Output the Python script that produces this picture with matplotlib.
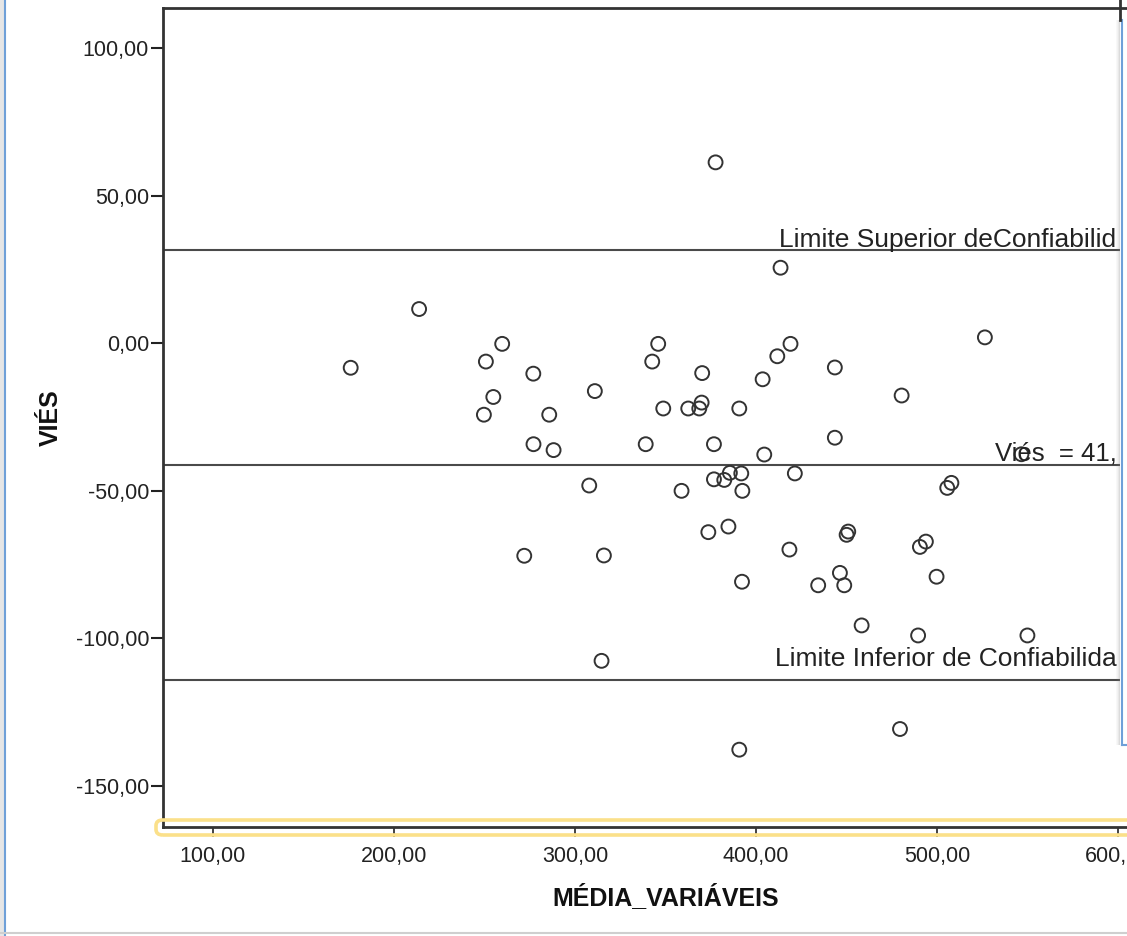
import matplotlib
matplotlib.use('Agg')
import matplotlib.pyplot as plt
from matplotlib.ticker import FuncFormatter
from matplotlib.patches import Rectangle, FancyBboxPatch
from matplotlib.lines import Line2D

# media das variaveis (x) e vies (y)
media = [176.1, 213.9, 259.8, 250.8, 277.0, 311.0, 254.9, 249.7, 285.8, 277.1,
         288.2, 377.7, 413.6, 346.0, 342.7, 419.1, 411.8, 443.6, 370.3, 403.7,
         348.8, 362.6, 368.7, 370.0, 390.8, 339.1, 376.8, 443.6, 404.6, 385.6,
         391.9, 376.8, 382.5, 421.5, 358.9, 392.5, 373.7, 384.8, 451.0, 450.1,
         418.5, 316.0, 446.4, 448.8, 434.4, 392.3, 458.4, 314.7, 390.8, 307.9,
         272.0, 526.5, 480.5, 546.7, 505.7, 508.0, 490.6, 493.9, 499.8, 489.6,
         550.0, 479.6]
vies = [-8.3, 11.6, -0.2, -6.2, -10.3, -16.2, -18.2, -24.2, -24.2, -34.2,
        -36.2, 61.3, 25.6, -0.2, -6.2, -0.2, -4.4, -8.2, -10.1, -12.2,
        -22.1, -22.1, -22.1, -20.1, -22.1, -34.2, -34.2, -32.0, -37.7, -43.9,
        -44.1, -46.1, -46.3, -44.1, -50.0, -50.0, -64.0, -62.1, -63.8, -64.9,
        -69.9, -71.9, -77.8, -82.0, -82.0, -80.8, -95.6, -107.6, -137.7, -48.2,
        -72.0, 2.0, -17.7, -37.6, -49.0, -47.3, -69.0, -67.2, -79.1, -99.0,
        -99.0, -130.7]

vies_medio = -41.3
lim_sup = 31.6
lim_inf = -114.2

x_ticks = [100, 200, 300, 400, 500, 600]
y_ticks = [100, 50, 0, -50, -100, -150]

W, H = 1127, 936
plt.rcParams['font.family'] = ['Liberation Sans', 'DejaVu Sans']

fig = plt.figure(figsize=(W / 100, H / 100), dpi=100)
fig.patch.set_facecolor('white')

# axes in pixel terms: left 163, top 8, bottom 827, right beyond the crop
L, T, B, R = 163, 8, 827, 1140
ax = fig.add_axes([L / W, 1 - B / H, (R - L) / W, (B - T) / H])
ax.set_xlim(72.4, 612.2)
ax.set_ylim(-163.9, 113.6)

ax.scatter(media, vies, s=100, facecolors='none', edgecolors='#333333',
           linewidths=1.4, zorder=3)

for yv in (lim_sup, vies_medio, lim_inf):
    ax.axhline(yv, color='#4a4a4a', lw=1.5, zorder=2)

ax.text(412.7, 32.6, 'Limite Superior deConfiabilid', fontsize=19,
        color='#222222', va='baseline', ha='left', zorder=4)
ax.text(532.0, -39.6, 'Viés  = 41,', fontsize=18.5,
        color='#222222', va='baseline', ha='left', zorder=4)
ax.text(410.5, -109.4, 'Limite Inferior de Confiabilida', fontsize=19,
        color='#222222', va='baseline', ha='left', zorder=4)

fmt = FuncFormatter(lambda v, p: f'{v:.2f}'.replace('.', ','))
ax.set_xticks(x_ticks)
ax.set_yticks(y_ticks)
ax.xaxis.set_major_formatter(fmt)
ax.yaxis.set_major_formatter(fmt)
ax.tick_params(axis='y', direction='out', length=9, width=1.5, pad=1,
               labelsize=15.5, colors='#222222')
ax.tick_params(axis='x', direction='out', length=7, width=1.2, pad=6.5,
               labelsize=15.5, colors='#222222')

for side in ('left', 'bottom', 'top'):
    ax.spines[side].set_linewidth(2)
    ax.spines[side].set_color('#333333')
ax.spines['right'].set_visible(False)

fig.text(51 / W, 1 - 418 / H, 'VIÉS', rotation=90, fontsize=18,
         fontweight='bold', ha='center', va='center', color='#111111')
fig.text(665.5 / W, 1 - 897 / H, 'MÉDIA_VARIÁVEIS', fontsize=18,
         fontweight='bold', ha='center', va='center', color='#111111')

# yellow selection outline around the x axis
sel = FancyBboxPatch((156 / W, 1 - 835 / H), (W + 40 - 156) / W, 15 / H,
                     boxstyle='round,pad=0,rounding_size=0.006',
                     transform=fig.transFigure, fill=False,
                     edgecolor='#fbe08a', lw=2.6, zorder=1)
fig.patches.append(sel)

# window edges from the screenshot
fig.add_artist(Line2D([5 / W, 5 / W], [0, 1], transform=fig.transFigure,
                      color='#6fa0d8', lw=1.5))
fig.add_artist(Rectangle((0, 0), 4 / W, 1, transform=fig.transFigure,
                         facecolor='#e6e6e6', edgecolor='none'))
fig.add_artist(Line2D([0, 1], [1 - 933 / H, 1 - 933 / H],
                      transform=fig.transFigure, color='#cfcfcf', lw=1.5))

# overlay panel at the right
for i, a in enumerate([0.05, 0.1, 0.18, 0.28]):
    fig.add_artist(Rectangle(((1116 + i) / W, 1 - 745 / H), 1 / W, 725 / H,
                             transform=fig.transFigure, facecolor='#808080',
                             alpha=a, edgecolor='none', zorder=10))
fig.add_artist(Rectangle((1120 / W, 1 - 745 / H), 10 / W, 725 / H,
                         transform=fig.transFigure, facecolor='white',
                         edgecolor='none', zorder=10))
fig.add_artist(Line2D([1122 / W, 1122 / W], [1 - 745 / H, 1 - 20 / H],
                      transform=fig.transFigure, color='#6fa0d8', lw=1.5,
                      zorder=11))
fig.add_artist(Line2D([1122 / W, 1], [1 - 745 / H, 1 - 745 / H],
                      transform=fig.transFigure, color='#6fa0d8', lw=1.5,
                      zorder=11))
fig.add_artist(Line2D([1120 / W, 1120 / W], [1 - 20 / H, 1],
                      transform=fig.transFigure, color='#333333', lw=2,
                      zorder=11))

fig.savefig('out.png', dpi=100)
